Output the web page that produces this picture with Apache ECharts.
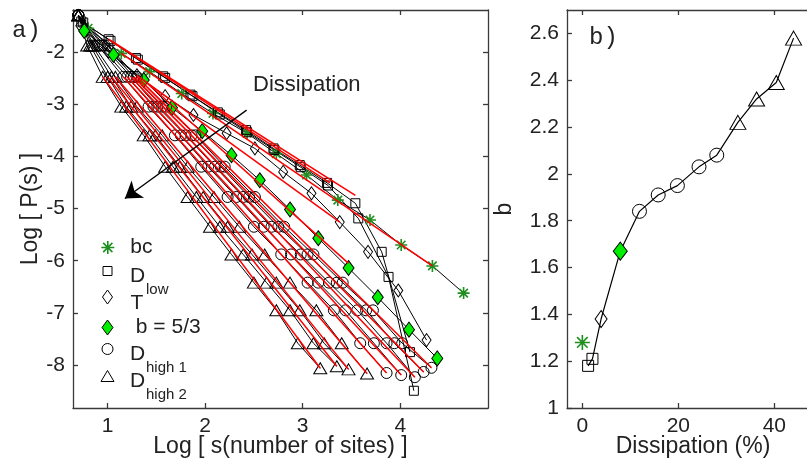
<!DOCTYPE html>
<html><head><meta charset="utf-8">
<script src="https://cdn.jsdelivr.net/npm/echarts@6/dist/echarts.min.js"></script>
<style>html,body{margin:0;padding:0;background:#fff}#c{width:807px;height:464px}</style>
</head><body><div id="c"></div>
<script>
// ---------- Panel a data (log10 s, log10 P) ----------
const bcPts = [[0.80,-1.55],[1.14,-2.03],[1.43,-2.38],[1.76,-2.80],[2.08,-3.18],[2.43,-3.56],[2.73,-3.95],[3.04,-4.36],[3.36,-4.84],[3.69,-5.22],[4.01,-5.70],[4.33,-6.10],[4.65,-6.62]];
const dlow1X = [0.73,1.01,1.29,1.57,1.85,2.13,2.42,2.70,2.97,3.25,3.54,3.81,4.10];
const dlow1Y = [-1.42,-1.76,-2.12,-2.47,-2.82,-3.16,-3.50,-3.85,-4.17,-4.51,-4.90,-5.83,-7.75];
const dlow2X = [0.75,1.03,1.31,1.59,1.87,2.15,2.43,2.71,2.98,3.26,3.57,3.88,4.14];
const dlow2Y = [-1.44,-1.79,-2.15,-2.50,-2.85,-3.20,-3.54,-3.88,-4.21,-4.56,-5.19,-6.31,-8.49];
const tX = [0.72,1.01,1.30,1.59,1.88,2.22,2.51,2.80,3.09,3.38,3.67,3.98,4.27];
const tY = [-1.50,-2.00,-2.45,-2.85,-3.21,-3.56,-3.85,-4.30,-4.71,-5.26,-5.83,-6.57,-7.52];
const gX = [0.76,1.06,1.37,1.66,1.97,2.27,2.56,2.87,3.16,3.47,3.77,4.09,4.38];
const gY = [-1.60,-2.06,-2.54,-3.07,-3.52,-3.98,-4.46,-5.02,-5.57,-6.14,-6.70,-7.32,-7.87];
// D_high curves: common row levels, last point per curve
const dhRowY = [-1.30,-1.88,-2.48,-3.05,-3.60,-4.20,-4.78,-5.35,-5.88,-6.42,-6.95,-7.58];
const dh1X = [
  [0.70,1.00,1.30,1.60,1.90,2.20,2.51,2.81,3.11,3.41,3.72,4.02,4.32],
  [0.70,0.97,1.27,1.56,1.86,2.16,2.45,2.75,3.05,3.35,3.65,3.94,4.24],
  [0.70,0.95,1.24,1.51,1.80,2.10,2.39,2.68,2.98,3.27,3.56,3.86,4.15],
  [0.70,0.92,1.20,1.47,1.75,2.03,2.32,2.60,2.88,3.16,3.44,3.73,4.01],
  [0.70,0.90,1.16,1.42,1.69,1.96,2.23,2.50,2.78,3.05,3.32,3.59,3.86]
];
const dh1LastY = [-8.05,-8.13,-8.23,-8.19,-8.15];
const dh2X = [
  [0.70,0.86,1.08,1.30,1.56,1.82,2.09,2.35,2.61,2.87,3.14,3.40,3.66],
  [0.70,0.84,1.04,1.24,1.49,1.74,1.98,2.23,2.48,2.73,2.97,3.22,3.47],
  [0.70,0.82,1.00,1.19,1.43,1.67,1.91,2.15,2.39,2.63,2.87,3.11,3.35],
  [0.70,0.79,0.95,1.14,1.37,1.59,1.82,2.05,2.27,2.50,2.73,2.95,3.18]
];
const dh2LastY = [-8.16,-8.08,-8.02,-8.06];
// red fit lines [x1,y1,x2,y2]
const fitBc = [1.14,-2.03,4.33,-6.10];
const fitDlow = [[1.01,-1.76,3.54,-4.75],[1.04,-1.80,3.28,-4.51]];
const fitT = [1.30,-2.45,3.38,-5.26];
const fitG = [1.37,-2.54,3.47,-6.05];
const fitDh1 = [[1.30,-2.48,4.32,-8.05],[1.27,-2.48,4.24,-8.13],[1.24,-2.48,4.15,-8.23],[1.20,-2.48,4.01,-8.19],[1.16,-2.48,3.86,-8.15]];
const fitDh2 = [[1.08,-2.48,3.66,-8.16],[1.04,-2.48,3.47,-8.08],[1.00,-2.48,3.35,-8.02],[0.95,-2.48,3.18,-8.06]];
const arrowAB = [[2.425,-3.117],[1.177,-4.81]];
const xTicksA = [1,2,3,4];
const yTicksA = [-8,-7,-6,-5,-4,-3,-2];
// ---------- Panel b data (dissipation %, b) ----------
const bBc = [[0,1.28]];
const bDlow = [[1.2,1.18],[2.1,1.21]];
const bT = [[3.9,1.38]];
const bG = [[7.9,1.67]];
const bDh1 = [[11.9,1.84],[15.8,1.91],[19.8,1.95],[24.3,2.03],[28,2.08]];
const bDh2 = [[32.4,2.22],[36.3,2.32],[40.4,2.39],[44,2.58]];
const xTicksB = [0,20,40];
const yTicksB = [1,1.2,1.4,1.6,1.8,2,2.2,2.4,2.6];

const FONT = 'Liberation Sans';
const AX = '#3a3a3a';
const TXT = '#222';
const GREEN_STAR = '#1f8f1f';
const GREEN_FILL = '#00ee00';
const STAR = 'path://M5,0L5,10M0,5L10,5M1.46,1.46L8.54,8.54M1.46,8.54L8.54,1.46';
const OPEN = 'rgba(0,0,0,0)';

function zip(xs, ys){ return xs.map((x,i)=>[x,ys[i]]); }
function rowsZip(xs, lastY){ return xs.map((x,i)=>[x, i < dhRowY.length ? dhRowY[i] : lastY]); }

function axis(grid, pos, min, max, ticks, showLabel, name, gap, namePad){
  return {
    type:'value', gridIndex:grid, position:pos, min:min, max:max, scale:true,
    axisLine:{show:true, onZero:false, lineStyle:{color:AX, width:1.3}},
    axisTick:{show:true, inside:true, length:5, customValues:ticks, lineStyle:{color:AX, width:1.3}},
    axisLabel:{show:showLabel, customValues:ticks, fontSize:21, fontFamily:FONT, color:TXT, margin:8},
    splitLine:{show:false},
    name:name||'', nameLocation:'middle', nameGap:gap||20, nameMoveOverlap:false,
    nameTextStyle:{fontSize:23, fontFamily:FONT, color:TXT, padding:namePad||0}
  };
}

const series = [];
function curve(name, data, symbol, size, fill, stroke, bw){
  series.push({
    name:name, type:'line', xAxisIndex:0, yAxisIndex:0, data:data,
    symbol:symbol, symbolSize:size, showAllSymbol:true, z:2,
    lineStyle:{color:'#000', width:1},
    itemStyle:{color:fill, borderColor:stroke, borderWidth:bw},
    emphasis:{disabled:true}, animation:false
  });
}
function fit(f){
  series.push({
    name:'fit', type:'line', xAxisIndex:0, yAxisIndex:0,
    data:[[f[0],f[1]],[f[2],f[3]]], symbol:'none', z:4,
    lineStyle:{color:'#ff0000', width:1.5}, emphasis:{disabled:true}, animation:false
  });
}

curve('bc', bcPts, STAR, 12, OPEN, GREEN_STAR, 1.6);
series[0].markLine = {
  silent:true, symbol:['none','arrow'], symbolSize:16, animation:false,
  label:{show:false}, lineStyle:{color:'#000', width:1.3, type:'solid'},
  itemStyle:{color:'#000'},
  data:[[{coord:arrowAB[0]},{coord:arrowAB[1]}]]
};
curve('Dlow', zip(dlow1X, dlow1Y), 'rect', 9, OPEN, '#000', 1);
curve('Dlow', zip(dlow2X, dlow2Y), 'rect', 9, OPEN, '#000', 1);
curve('T', zip(tX, tY), 'diamond', [9,13], OPEN, '#000', 1);
curve('b53', zip(gX, gY), 'diamond', [11,15], GREEN_FILL, '#000', 1);
dh1X.forEach((xs,k)=>curve('Dh1', rowsZip(xs, dh1LastY[k]), 'circle', 11, OPEN, '#000', 1));
dh2X.forEach((xs,k)=>curve('Dh2', rowsZip(xs, dh2LastY[k]), 'triangle', [13,11], OPEN, '#000', 1));
fit(fitBc); fitDlow.forEach(fit); fit(fitT); fit(fitG); fitDh1.forEach(fit); fitDh2.forEach(fit);

// panel b
function bScatter(name, data, symbol, size, fill, stroke, bw){
  series.push({name:name, type:'scatter', xAxisIndex:2, yAxisIndex:2, data:data, symbol:symbol, symbolSize:size, z:3,
    itemStyle:{color:fill, borderColor:stroke, borderWidth:bw, opacity:1}, emphasis:{disabled:true}, animation:false});
}
series.push({name:'bline', type:'line', xAxisIndex:2, yAxisIndex:2,
  data:[].concat(bDlow, bT, bG, bDh1, bDh2), symbol:'none', z:2,
  lineStyle:{color:'#000', width:1.2}, emphasis:{disabled:true}, animation:false});
bScatter('bBc', bBc, STAR, 15, OPEN, GREEN_STAR, 1.6);
bScatter('bDlow', bDlow, 'rect', 11, OPEN, '#000', 1);
bScatter('bT', bT, 'diamond', [12,17], OPEN, '#000', 1);
bScatter('bG', bG, 'diamond', [14,18], GREEN_FILL, '#000', 1);
bScatter('bDh1', bDh1, 'circle', 14, OPEN, '#000', 1);
bScatter('bDh2', bDh2, 'triangle', [16,14], OPEN, '#000', 1);

// legend: one component per entry
function leg(name, icon, top, w, h, style, fmt, rich){
  return {show:true, left:107 - w/2, top:top, padding:0, itemWidth:w, itemHeight:h,
    symbolKeepAspect:false, selectedMode:false, data:[{name:name, icon:icon, itemStyle:style}],
    formatter:fmt, textStyle:{fontSize:21, fontFamily:FONT, color:TXT, rich:rich}};
}
const open = {color:OPEN, borderColor:'#000', borderWidth:1};
const one = (pl)=>({m:{fontSize:21, fontFamily:FONT, color:TXT, lineHeight:22, padding:[0,0,0,pl]}});
const tRich = (pl)=>({
  e:{fontSize:4, lineHeight:12},
  m:{fontSize:21, fontFamily:FONT, color:TXT, lineHeight:22, padding:[0,0,0,pl]}
});
const subRich = (pl)=>({
  e:{fontSize:4, lineHeight:24},
  m:{fontSize:21, fontFamily:FONT, color:TXT, lineHeight:14, padding:[0,0,0,pl]},
  s:{fontSize:15, fontFamily:FONT, color:TXT, lineHeight:14, padding:[0,0,0,pl+16]}
});
const legends = [
  leg('bc', STAR, 237, 13, 13, {color:OPEN, borderColor:GREEN_STAR, borderWidth:1.6}, '{m|bc}', one(11)),
  leg('Dlow', 'rect', 255, 9, 9, open, '{e| }\n{m|D}\n{s|low}', subRich(13)),
  leg('T', 'diamond', 284, 10, 14, open, '{e| }\n{m|T}', tRich(13)),
  leg('b53', 'diamond', 317, 11, 15, {color:GREEN_FILL, borderColor:'#000', borderWidth:1}, '{m| b = 5/3}', one(12)),
  leg('Dh1', 'circle', 333, 11, 11, open, '{e| }\n{m|D}\n{s|high 1}', subRich(12)),
  leg('Dh2', 'triangle', 360, 13, 11, open, '{e| }\n{m|D}\n{s|high 2}', subRich(11))
];

const option = {
  backgroundColor:'#fff',
  animation:false,
  grid:[
    {left:73, top:10, width:415, height:398, containLabel:false},
    {left:567, top:10, width:240, height:398, containLabel:false}
  ],
  xAxis:[
    axis(0,'bottom',0.645,4.9,xTicksA,true,'Log [ s(number of sites) ]',27),
    axis(0,'top',0.645,4.9,xTicksA,false),
    axis(1,'bottom',-3.2,46.8,xTicksB,true,'Dissipation (%)',27,[0,0,0,12]),
    axis(1,'top',-3.2,46.8,xTicksB,false)
  ],
  yAxis:[
    axis(0,'left',-8.82,-1.2,yTicksA,true,'Log [ P(s) ]',31),
    axis(0,'right',-8.82,-1.2,yTicksA,false),
    axis(1,'left',1,2.7,yTicksB,true,'b',51)
  ],
  legend:legends,
  graphic:[
    {type:'text', left:12, top:19, style:{text:'a)', font:'24px "Liberation Mono"', fill:TXT}},
    {type:'text', left:589, top:26, style:{text:'b)', font:'24px "Liberation Mono"', fill:TXT}},
    {type:'text', left:253, top:74, style:{text:'Dissipation', font:'22px "Liberation Sans"', fill:TXT}}
  ],
  series:series
};
const chart = echarts.init(document.getElementById('c'), null, {renderer:'canvas'});
chart.setOption(option);
</script></body></html>
